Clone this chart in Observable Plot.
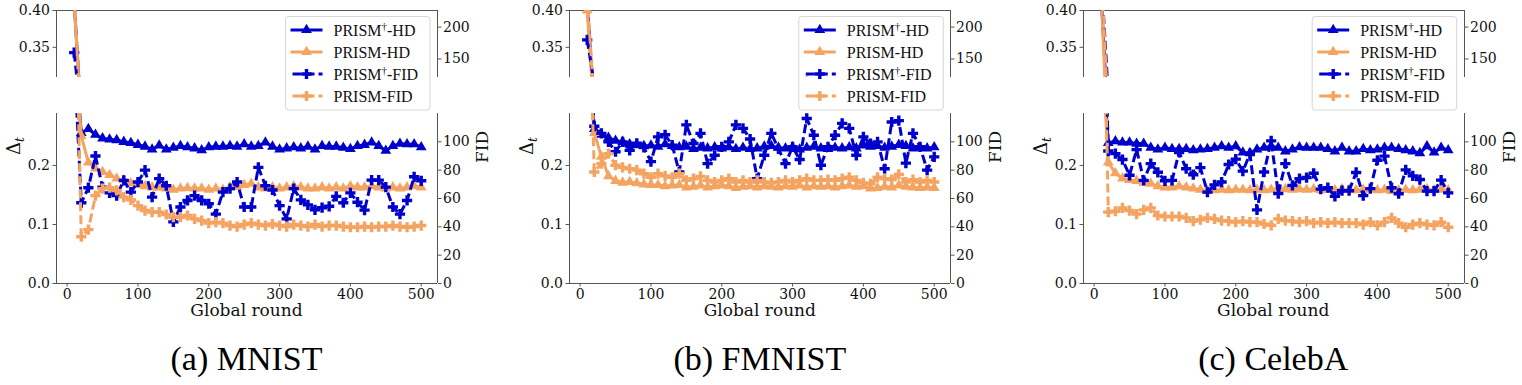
<!DOCTYPE html>
<html><head><meta charset="utf-8">
<script src="https://cdn.jsdelivr.net/npm/d3@7"></script>
<script src="https://cdn.jsdelivr.net/npm/@observablehq/plot@0.6"></script>
<style>
body{margin:0;background:#fff;}
#root{position:relative;width:1522px;height:385px;overflow:hidden;background:#fff;}
#root svg{position:absolute;}
#root svg text{font-family:'DejaVu Serif',serif;}
</style></head><body><div id="root"></div>
<script>
// ---- data ----
const rounds = [10,20,30,40,50,60,70,80,90,100,110,120,130,140,150,160,170,180,190,200,210,220,230,240,250,260,270,280,290,300,310,320,330,340,350,360,370,380,390,400,410,420,430,440,450,460,470,480,490,500];
const xTicks = [0,100,200,300,400,500];
const hdTicksTop = [0.35,0.40];
const hdTicksBottom = [0,0.1,0.2];
const fidTicksTop = [150,200];
const fidTicksBottom = [0,20,40,60,80,100];
const panelTitles = ["(a) MNIST","(b) FMNIST","(c) CelebA"];
const seriesNames = ["PRISM†-HD","PRISM-HD","PRISM†-FID","PRISM-FID"];

const mnistPrismDaggerHD = [0.41,0.255,0.262,0.252,0.246,0.244,0.243,0.240,0.238,0.235,0.232,0.227,0.234,0.227,0.230,0.233,0.231,0.229,0.226,0.231,0.232,0.232,0.233,0.232,0.236,0.232,0.233,0.239,0.232,0.227,0.229,0.231,0.229,0.232,0.227,0.233,0.232,0.232,0.230,0.228,0.233,0.235,0.239,0.233,0.225,0.233,0.237,0.236,0.236,0.231];
const mnistPrismHD = [0.41,0.25,0.205,0.195,0.189,0.184,0.178,0.175,0.170,0.168,0.165,0.163,0.163,0.161,0.159,0.161,0.162,0.161,0.161,0.159,0.161,0.159,0.163,0.164,0.167,0.169,0.163,0.161,0.163,0.161,0.163,0.165,0.163,0.161,0.161,0.163,0.161,0.163,0.161,0.165,0.163,0.163,0.165,0.163,0.161,0.163,0.161,0.163,0.165,0.163];
const mnistPrismDaggerFID = [160,57,67.6,90,68,64,62,72.8,64.5,71.6,80,61,74,69,43.5,54,58.6,62,58.6,56.3,49,64.5,67,71.6,54,54,82,69,66,55,45.6,67,59,55.5,52,53.5,54.5,61.5,57,64,57.4,51.8,73,73,68,54,49,58.6,75.3,72.5];
const mnistPrismFID = [250,33,38,62,67,67.6,65.7,61,59,55,51.5,50.4,50.4,48.7,46.8,46.8,48,45.6,44.4,42.6,43.3,42.6,40.9,40.2,41.6,42.6,41.6,40.9,42,40.9,40.2,41.6,40.9,40.2,41.6,40.2,40.9,40.9,40.2,39.7,39.7,40.2,39.7,40.2,40.2,40.9,40.2,39.7,40.2,40.9];

const fmnistPrismDaggerHD = [0.41,0.262,0.252,0.247,0.242,0.240,0.236,0.235,0.233,0.234,0.232,0.236,0.233,0.231,0.232,0.228,0.230,0.229,0.231,0.229,0.231,0.228,0.230,0.228,0.229,0.232,0.233,0.230,0.229,0.231,0.227,0.230,0.232,0.229,0.228,0.230,0.229,0.231,0.229,0.234,0.232,0.233,0.230,0.232,0.235,0.233,0.229,0.230,0.229,0.231];
const fmnistPrismHD = [0.40,0.255,0.215,0.182,0.174,0.171,0.172,0.170,0.168,0.167,0.167,0.165,0.166,0.167,0.163,0.164,0.166,0.163,0.165,0.166,0.165,0.162,0.164,0.165,0.163,0.165,0.164,0.163,0.165,0.164,0.166,0.163,0.165,0.164,0.165,0.163,0.165,0.166,0.164,0.165,0.161,0.162,0.164,0.163,0.166,0.164,0.163,0.162,0.163,0.162];
const fmnistPrismDaggerFID = [180,111,106,100,93,100,94,99,96,86,103.5,105,97.6,78.7,112,98.8,106,84.6,90.5,96.5,100,112,109.5,102,74,90.5,106,95,84.6,96.5,87.5,116.5,104.7,83.5,96.5,104.7,113,109.5,90.5,103.5,98.8,100,81,114,115,85,106,96.5,80,89.4];
const fmnistPrismFID = [250,78.7,84.6,91.7,83.5,82,81,80,77.5,75,77.5,76,75,77.5,72.8,74,75.6,72.8,71.6,72.8,74,71.6,72.8,71.6,72.8,71.6,71,71.6,72.8,71.6,72.8,74,72.8,72.8,73.3,72.8,74,75,72.8,71,70.4,75,74,73.3,77,71.6,73.3,71.6,72.8,71.6];

const celebaPrismDaggerHD = [0.42,0.238,0.241,0.239,0.239,0.237,0.237,0.230,0.227,0.230,0.228,0.228,0.228,0.226,0.227,0.228,0.230,0.2325,0.230,0.2325,0.222,0.221,0.227,0.230,0.2325,0.230,0.224,0.227,0.231,0.230,0.230,0.230,0.228,0.224,0.230,0.224,0.224,0.228,0.226,0.227,0.230,0.230,0.228,0.226,0.224,0.221,0.2325,0.222,0.230,0.226];
const celebaPrismHD = [0.42,0.205,0.187,0.178,0.1755,0.174,0.171,0.169,0.165,0.163,0.163,0.165,0.163,0.161,0.159,0.157,0.158,0.159,0.158,0.159,0.159,0.158,0.159,0.158,0.159,0.162,0.160,0.159,0.160,0.159,0.160,0.158,0.159,0.158,0.160,0.159,0.158,0.159,0.160,0.158,0.159,0.157,0.158,0.159,0.158,0.159,0.160,0.158,0.159,0.158];
const celebaPrismDaggerFID = [280,93.5,91.7,87.5,76.4,94.5,72.8,84.6,78.5,72.5,72.8,92.5,81,76.8,81.8,64.5,69.6,71.6,84,87.8,79.3,91.5,52,78.7,100.7,63.5,84.6,69.2,74,74.8,77.8,66.6,67.6,61.5,65.5,65.5,78.4,62,67,87,89.9,67.6,63.4,80.2,76,73.4,65.2,65.2,73,64];
const celebaPrismFID = [300,50.4,51,53.4,51.5,49,52,53.4,48,47.3,47.3,47.3,46.3,44,45,46.3,45.6,44.4,44,43.3,44,43.3,43.3,42,41,45.6,44.4,44,43.3,44,42.6,43.3,42.6,43.3,42.6,42.6,42.6,41.6,43.3,41,43.3,46.3,42.6,39.7,41.6,42.6,41.6,41,43.3,39.7];

// ---- layout / style ----
const BLUE = "#0000cd", ORANGE = "#f4a460", SPINE = "#555", INK = "#111";
const SERIF = "DejaVu Serif";
const X_DOMAIN = [-15, 523];
const PLOT_W = 381, ML = 50, MR = 50, MT = 10;
const TOP_Y = 10, TOP_H = 67, BOT_Y = 113, BOT_H = 170;
const HD_TOP = [0.309, 0.40], HD_BOT = [0, 0.288];
const FID_TOP = [121, 226], FID_BOT = [0, 120];
const panelLefts = [56, 569.3, 1082.7];

const panels = [
  {hd: [mnistPrismDaggerHD, mnistPrismHD], fid: [mnistPrismDaggerFID, mnistPrismFID]},
  {hd: [fmnistPrismDaggerHD, fmnistPrismHD], fid: [fmnistPrismDaggerFID, fmnistPrismFID]},
  {hd: [celebaPrismDaggerHD, celebaPrismHD], fid: [celebaPrismDaggerFID, celebaPrismFID]}
];

const root = document.getElementById("root");
const rowsOf = vals => rounds.map((r, i) => ({round: r, value: vals[i]}));

function seriesMarks(vals, color, dashed, symbol, r) {
  const data = rowsOf(vals);
  const lineOpts = {x: "round", y: "value", stroke: color, strokeWidth: 3, clip: true,
    strokeLinejoin: "round", strokeLinecap: dashed ? "butt" : "square"};
  if (dashed) lineOpts.strokeDasharray = "9,4";
  return [
    Plot.line(data, lineOpts),
    Plot.dot(data, {x: "round", y: "value", symbol, r, fill: color, clip: true})
  ];
}

function subplot({left, top, h, mb, yDomain, yTicks, yFmt, anchor, showX, spines, marks}) {
  const svg = Plot.plot({
    width: PLOT_W + ML + MR, height: h + MT + mb,
    marginLeft: ML, marginRight: MR, marginTop: MT, marginBottom: mb,
    style: "background:transparent;overflow:visible;font-family:'DejaVu Serif',serif;font-size:14px;color:#111;",
    x: {domain: X_DOMAIN, axis: null},
    y: {domain: yDomain, axis: null},
    marks: [
      ...spines,
      Plot.axisY({anchor, ticks: yTicks, tickFormat: yFmt, tickSize: 3.5, tickPadding: anchor === "left" ? 3 : 2,
        stroke: SPINE, fill: INK, label: null, fontFamily: SERIF, fontSize: 14}),
      showX ? Plot.axisX({ticks: xTicks, tickSize: 3.5, tickPadding: 2, stroke: SPINE, fill: INK, label: null,
        fontFamily: SERIF, fontSize: 14}) : null,
      ...marks
    ]
  });
  svg.style.position = "absolute";
  svg.style.left = (left - ML) + "px";
  svg.style.top = (top - MT) + "px";
  root.append(svg);
}

panels.forEach((p, i) => {
  const left = panelLefts[i];
  const hdMarks = () => [
    ...seriesMarks(p.hd[0], BLUE, false, "triangle", 4),
    ...seriesMarks(p.hd[1], ORANGE, false, "triangle", 4)
  ];
  const fidMarks = () => [
    ...seriesMarks(p.fid[0], BLUE, true, "cross", 4.3),
    ...seriesMarks(p.fid[1], ORANGE, true, "cross", 4.3)
  ];
  // top (broken) part
  subplot({left, top: TOP_Y, h: TOP_H, mb: 10, yDomain: HD_TOP, yTicks: hdTicksTop, yFmt: ".2f", anchor: "left", showX: false,
    spines: [Plot.ruleX(X_DOMAIN, {stroke: SPINE}), Plot.ruleY([HD_TOP[1]], {stroke: SPINE})], marks: hdMarks()});
  subplot({left, top: TOP_Y, h: TOP_H, mb: 10, yDomain: FID_TOP, yTicks: fidTicksTop, yFmt: "d", anchor: "right", showX: false,
    spines: [], marks: fidMarks()});
  // bottom part
  subplot({left, top: BOT_Y, h: BOT_H, mb: 30, yDomain: HD_BOT, yTicks: hdTicksBottom, yFmt: ".1f", anchor: "left", showX: true,
    spines: [Plot.ruleX(X_DOMAIN, {stroke: SPINE}), Plot.ruleY([HD_BOT[0]], {stroke: SPINE})], marks: hdMarks()});
  subplot({left, top: BOT_Y, h: BOT_H, mb: 30, yDomain: FID_BOT, yTicks: fidTicksBottom, yFmt: "d", anchor: "right", showX: false,
    spines: [], marks: fidMarks()});
});

// ---- text overlay: labels, captions, legends ----
const ov = d3.create("svg").attr("width", 1522).attr("height", 385).style("left", "0px").style("top", "0px").style("pointer-events", "none");
const legendStyles = [
  {color: BLUE, dashed: false, sym: d3.symbolTriangle, size: Math.PI * 4 * 4},
  {color: ORANGE, dashed: false, sym: d3.symbolTriangle, size: Math.PI * 4 * 4},
  {color: BLUE, dashed: true, sym: d3.symbolCross, size: Math.PI * 4.3 * 4.3},
  {color: ORANGE, dashed: true, sym: d3.symbolCross, size: Math.PI * 4.3 * 4.3}
];
const TIMES = "'Liberation Serif', 'Times New Roman', serif";
panelLefts.forEach((left, i) => {
  const cx = left + PLOT_W / 2;
  ov.append("text").attr("x", cx).attr("y", 315.5).attr("text-anchor", "middle")
    .style("font-family", "'DejaVu Serif', serif").attr("font-size", 17).attr("fill", INK).text("Global round");
  ov.append("text").attr("x", cx).attr("y", 370).attr("text-anchor", "middle")
    .style("font-family", TIMES).attr("font-size", 34).attr("fill", "#000").text(panelTitles[i]);
  const dl = ov.append("text").attr("transform", `translate(${left - 36},146) rotate(-90)`).attr("text-anchor", "middle")
    .style("font-family", "'DejaVu Serif', serif").attr("font-size", 18).attr("fill", INK);
  dl.append("tspan").text("Δ");
  dl.append("tspan").attr("font-style", "italic").attr("font-size", 12).attr("dy", 4).text("t");
  ov.append("text").attr("transform", `translate(${left + PLOT_W + 51},147) rotate(-90)`).attr("text-anchor", "middle")
    .style("font-family", "'DejaVu Serif', serif").attr("font-size", 17).attr("fill", INK).text("FID");
  // legend
  const bx = left + 229.5, by = 16.5;
  const g = ov.append("g");
  g.append("rect").attr("x", bx).attr("y", by).attr("width", 144.5).attr("height", 93.5).attr("rx", 3)
    .attr("fill", "rgba(255,255,255,0.8)").attr("stroke", "#d6d6d6").attr("stroke-width", 1);
  seriesNames.forEach((name, k) => {
    const ry = by + 13.5 + k * 22;
    const st = legendStyles[k];
    const ln = g.append("line").attr("x1", bx + 5).attr("x2", bx + 37).attr("y1", ry).attr("y2", ry)
      .attr("stroke", st.color).attr("stroke-width", 3);
    if (st.dashed) ln.attr("stroke-dasharray", "9,4").attr("stroke-dashoffset", -2);
    g.append("path").attr("d", d3.symbol(st.sym, st.size)()).attr("transform", `translate(${bx + 21},${ry})`).attr("fill", st.color);
    const t = g.append("text").attr("x", bx + 48).attr("y", ry + 5.5)
      .style("font-family", TIMES).attr("font-size", 16).attr("fill", "#111");
    const parts = name.split("†");
    if (parts.length === 2) {
      t.append("tspan").text(parts[0]);
      t.append("tspan").attr("font-size", 11).attr("dy", -6).text("†");
      t.append("tspan").attr("dy", 6).text(parts[1]);
    } else {
      t.text(name);
    }
  });
});
root.append(ov.node());
</script>
</body></html>
